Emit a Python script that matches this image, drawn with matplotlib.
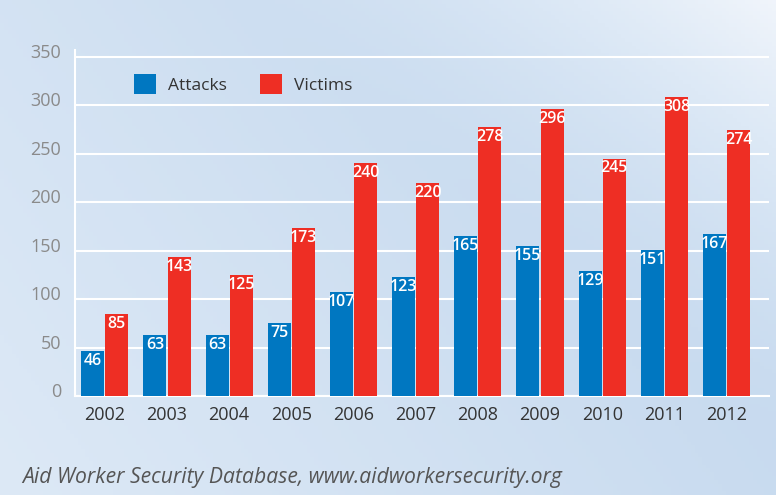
""" aid worker attacks vs victims, grouped bars """
import matplotlib.pyplot as plt
import matplotlib.transforms as mtrans
import numpy as np
from matplotlib.colors import LinearSegmentedColormap

plt.rcParams['font.family'] = ['Open Sans', 'DejaVu Sans']

years = ['2002', '2003', '2004', '2005', '2006', '2007', '2008', '2009', '2010', '2011', '2012']
attacks = [46, 63, 63, 75, 107, 123, 165, 155, 129, 151, 167]
victims = [85, 143, 125, 173, 240, 220, 278, 296, 245, 308, 274]
yticks = [0, 50, 100, 150, 200, 250, 300, 350]

BLUE = '#0077c1'
RED = '#ee2e24'

fig = plt.figure(figsize=(7.76, 4.95), dpi=100)

# background gradient: light at left, bluer in middle, almost white top-right
bg = fig.add_axes([0, 0, 1, 1], zorder=-10)
xx, yy = np.meshgrid(np.linspace(0, 1, 200), np.linspace(0, 1, 130))
t = 0.55 * xx + 0.25 * (1 - yy)
t += 0.9 * np.clip((xx - 0.6) * 1.8 + (0.4 - yy) * 1.4, 0, None) ** 1.5 * -1
cmap = LinearSegmentedColormap.from_list('bg', ['#f4f7fc', '#dde9f6', '#c7daef'])
bg.imshow(np.clip(t / 0.6, -1, 1), cmap=cmap, vmin=-1, vmax=1, aspect='auto',
          extent=[0, 1, 0, 1], origin='upper')
bg.axis('off')

ax = fig.add_axes([0.0966, 0.2, 0.895, 0.699])
ax.patch.set_alpha(0)

x = np.arange(len(years))
w = 0.37
b1 = ax.bar(x - w / 2 - 0.01, attacks, w, color=BLUE, label='Attacks', zorder=3)
b2 = ax.bar(x + w / 2 + 0.01, victims, w, color=RED, label='Victims', zorder=3)

for bars, vals in ((b1, attacks), (b2, victims)):
    for r, v in zip(bars, vals):
        ax.text(r.get_x() + r.get_width() / 2, v - 2, str(v), ha='center', va='top',
                color='white', fontsize=11.5, fontweight='semibold', zorder=4)

ax.set_xlim(-0.48, len(years) - 1 + 0.69)
ax.set_ylim(0, 357)
ax.set_yticks(yticks)
ax.set_xticks(x)
ax.set_xticklabels(years)
ax.yaxis.grid(True, color='white', linewidth=1.5, zorder=0)
ax.tick_params(axis='y', length=0, pad=10, labelcolor='#8a8a8a', labelsize=13)
ax.tick_params(axis='x', length=0, pad=7, labelcolor='#333333', labelsize=13)
# tick labels sit a little above their gridlines
shift = mtrans.ScaledTranslation(0, 6 / 100, fig.dpi_scale_trans)
for lbl in ax.get_yticklabels():
    lbl.set_transform(lbl.get_transform() + shift)
for s in ('top', 'right'):
    ax.spines[s].set_visible(False)
ax.spines['left'].set_color('white')
ax.spines['bottom'].set_color('white')
ax.spines['left'].set_linewidth(1.5)
ax.spines['bottom'].set_linewidth(1.5)

ax.legend(loc='upper left', bbox_to_anchor=(0.063, 0.975), ncol=2, frameon=False,
          fontsize=12.5, handlelength=1.25, handleheight=1.4, columnspacing=1.9,
          handletextpad=0.7, labelcolor='#333333')

fig.text(0.028, 0.025, 'Aid Worker Security Database, www.aidworkersecurity.org',
         fontsize=15.2, style='italic', color='#555555')

fig.savefig('out.png', dpi=100)
